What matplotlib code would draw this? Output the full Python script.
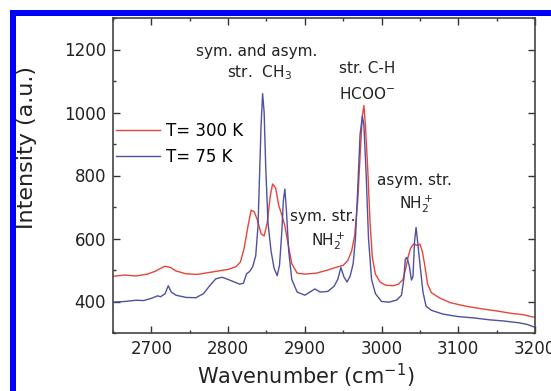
import matplotlib
matplotlib.use("Agg")
import matplotlib.pyplot as plt
from matplotlib.patches import Rectangle
from matplotlib.ticker import MultipleLocator

# spectrum at T = 300 K
x_300 = [2650, 2665, 2680, 2695, 2705, 2712, 2718, 2725, 2732, 2745, 2760, 2775, 2790, 2800,
         2810, 2816, 2821, 2826, 2830, 2834, 2838, 2843, 2847, 2851, 2855, 2858, 2862, 2866,
         2870, 2874, 2878, 2883, 2890, 2900, 2915, 2930, 2940, 2950, 2956, 2961, 2965, 2969,
         2972, 2975, 2977, 2979, 2982, 2985, 2988, 2992, 2998, 3005, 3015, 3022, 3028, 3032,
         3035, 3038, 3042, 3046, 3050, 3053, 3056, 3060, 3065, 3075, 3090, 3110, 3130, 3150,
         3170, 3185, 3195, 3200]
y_300 = [480, 484, 481, 487, 496, 505, 512, 508, 497, 488, 486, 492, 498, 502,
         510, 525, 570, 640, 690, 685, 660, 615, 608, 650, 735, 773, 760, 705,
         675, 640, 585, 520, 490, 487, 490, 500, 508, 515, 530, 560, 610, 720,
         860, 990, 1022, 960, 820, 650, 540, 487, 462, 452, 450, 455, 470, 510,
         545, 570, 583, 578, 582, 560, 520, 455, 428, 412, 396, 385, 377, 370,
         362, 358, 352, 350]

# spectrum at T = 75 K
x_75 = [2650, 2665, 2680, 2690, 2700, 2708, 2712, 2718, 2722, 2726, 2732, 2745, 2758, 2768,
        2776, 2784, 2792, 2800, 2808, 2815, 2820, 2824, 2828, 2832, 2836, 2839, 2841, 2843,
        2845, 2847, 2849, 2852, 2856, 2860, 2864, 2867, 2870, 2872, 2874, 2876, 2879, 2883,
        2890, 2900, 2908, 2913, 2920, 2930, 2938, 2943, 2947, 2951, 2955, 2959, 2963, 2966,
        2969, 2972, 2975, 2977, 2980, 2983, 2987, 2992, 3000, 3010, 3020, 3026, 3029, 3031,
        3033, 3036, 3039, 3041, 3043, 3045, 3047, 3050, 3054, 3058, 3065, 3080, 3100, 3120,
        3140, 3160, 3180, 3190, 3200]
y_75 = [398, 400, 404, 403, 410, 418, 415, 425, 450, 430, 420, 413, 412, 425,
        450, 472, 477, 470, 462, 455, 458, 488, 495, 510, 545, 640, 800, 960,
        1060, 1000, 830, 650, 560, 505, 482, 515, 620, 720, 757, 690, 560, 470,
        430, 420, 432, 440, 430, 432, 448, 470, 508, 478, 462, 480, 520, 600,
        760, 930, 988, 960, 800, 600, 470, 425, 400, 398, 405, 420, 470, 535,
        540, 515, 468, 480, 590, 635, 590, 520, 430, 385, 372, 360, 352, 348,
        342, 338, 332, 327, 318]

labels = ["T= 300 K", "T= 75 K"]
colors = ["#e8443a", "#5050a0"]

# peak assignments: (text, x, y)
notes = [
    ("sym. and asym.", 2837, 1194),
    ("str.  CH$_3$", 2841, 1128),
    ("str. C-H", 2981, 1140),
    ("HCOO$^{-}$", 2981, 1058),
    ("sym. str.", 2923, 669),
    ("NH$_2^+$", 2930, 593),
    ("asym. str.", 3043, 783),
    ("NH$_2^+$", 3045, 710),
]

fig = plt.figure(figsize=(5.51, 3.91), dpi=100)
ax = fig.add_axes([113 / 551, 58 / 391, 422 / 551, 315 / 391])

ax.plot(x_300, y_300, color=colors[0], lw=1.0, label=labels[0])
ax.plot(x_75, y_75, color=colors[1], lw=1.0, label=labels[1])

for txt, xx, yy in notes:
    ax.text(xx, yy, txt, ha="center", va="center", fontsize=11, color="#222222")

ax.set_xlim(2650, 3200)
ax.set_ylim(300, 1300)
ax.xaxis.set_major_locator(MultipleLocator(100))
ax.xaxis.set_minor_locator(MultipleLocator(50))
ax.set_yticks([400, 600, 800, 1000, 1200])
ax.yaxis.set_minor_locator(MultipleLocator(100))
ax.tick_params(which="both", direction="in", top=True, right=True,
               colors="#333333", labelcolor="#222222", labelsize=12)
ax.tick_params(which="major", length=5, width=1.0, pad=5)
ax.tick_params(which="minor", length=2.5, width=1.0)
for s in ax.spines.values():
    s.set_color("#444444")
    s.set_linewidth(1.2)

ax.set_xlabel("Wavenumber (cm$^{-1}$)", fontsize=15, color="#222222")
ax.set_ylabel("Intensity (a.u.)", fontsize=16, color="#222222")
ax.xaxis.set_label_coords(0.457, -0.09)
ax.yaxis.set_label_coords(-0.18, 0.59)

ax.legend(loc="upper left", bbox_to_anchor=(0.0, 0.68), frameon=False, fontsize=12,
          handlelength=2.6, handletextpad=0.35, labelspacing=0.45,
          borderpad=0.2, borderaxespad=0.0)

# blue frame around the picture (only top and left edges visible)
fig.add_artist(Rectangle((10 / 551, 0), 5.5 / 551, 1 - 10 / 391,
                         transform=fig.transFigure, color="blue", lw=0))
fig.add_artist(Rectangle((10 / 551, 1 - 16 / 391), 1, 6 / 391,
                         transform=fig.transFigure, color="blue", lw=0))

fig.savefig("out.png", dpi=100)
